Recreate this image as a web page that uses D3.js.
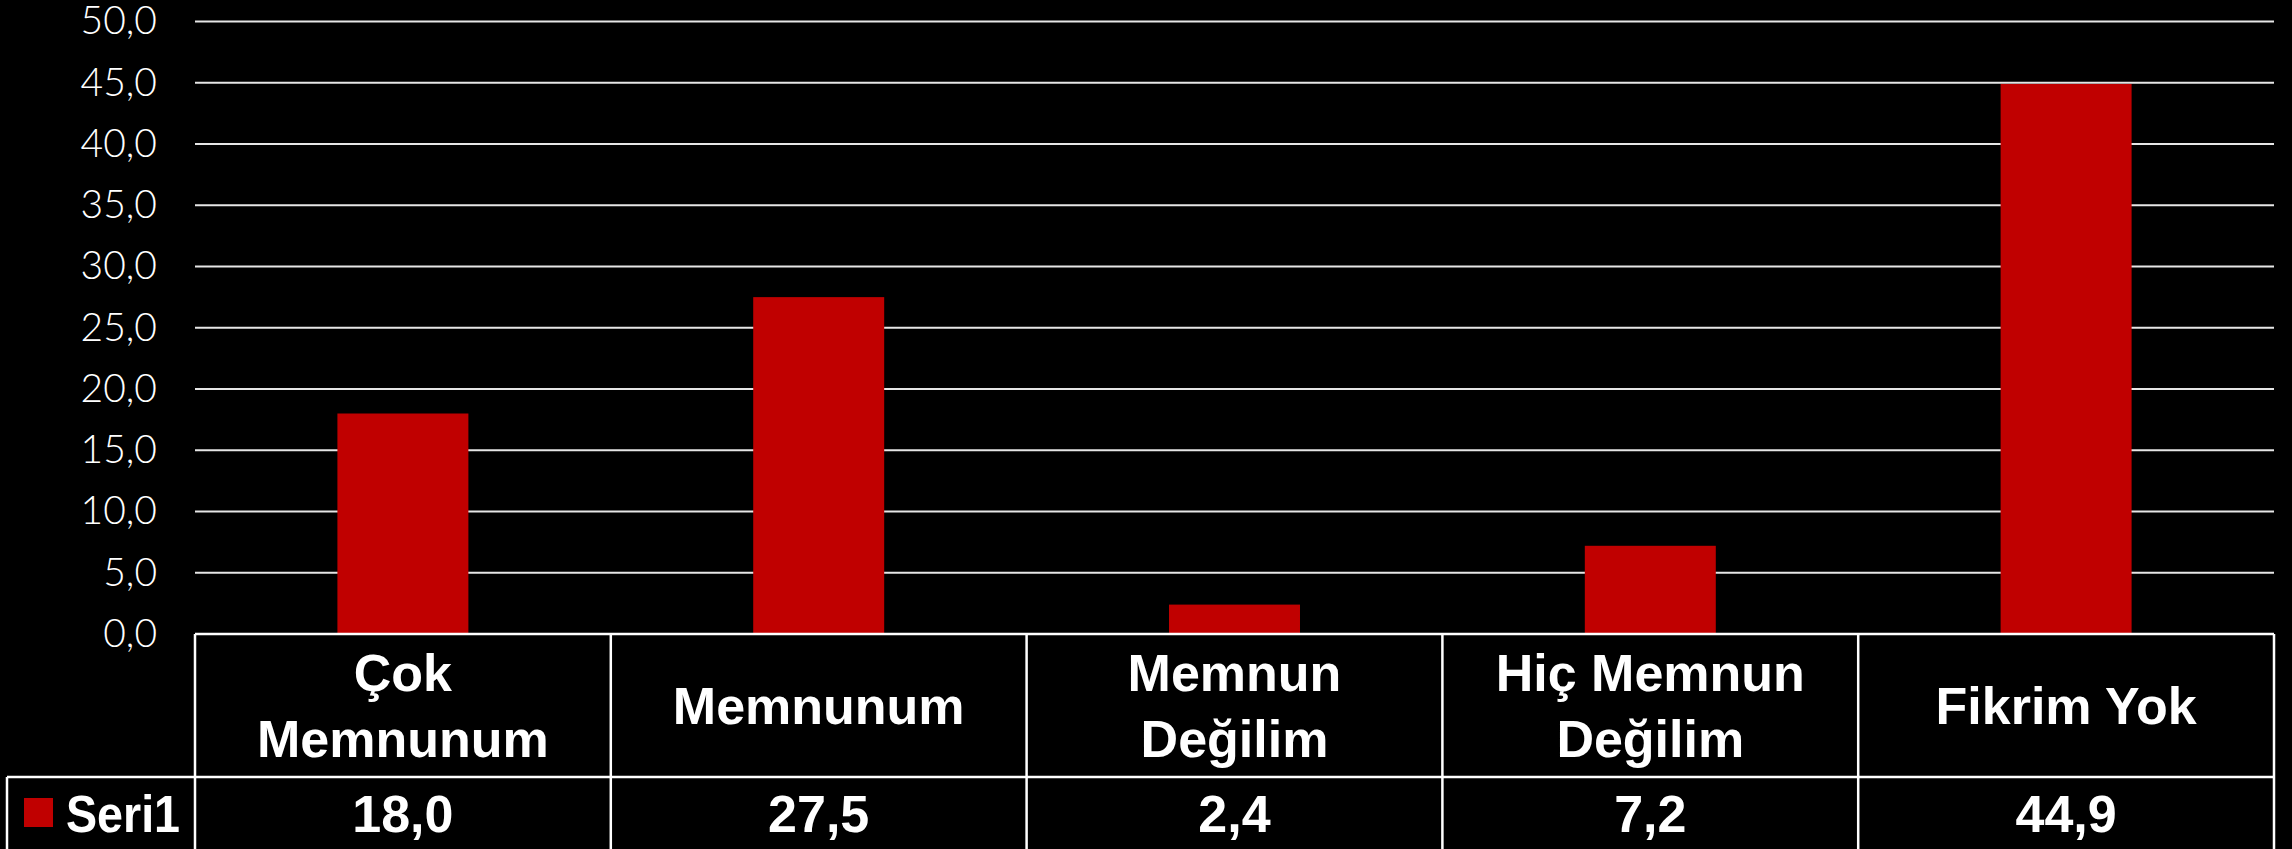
<!DOCTYPE html>
<html>
<head>
<meta charset="utf-8">
<script src="https://cdn.jsdelivr.net/npm/d3@7"></script>
<style>
  html, body { margin: 0; padding: 0; background: #000; }
  svg { display: block; }
</style>
</head>
<body>
<svg id="chart" width="2292" height="849"></svg>
<script>
// ---- data ----
const categories = ["Çok Memnunum", "Memnunum", "Memnun Değilim", "Hiç Memnun Değilim", "Fikrim Yok"];
const categoryLines = [["Çok", "Memnunum"], ["Memnunum"], ["Memnun", "Değilim"], ["Hiç Memnun", "Değilim"], ["Fikrim Yok"]];
const seriesName = "Seri1";
const values = [18.0, 27.5, 2.4, 7.2, 44.9];
const yTicks = [0, 5, 10, 15, 20, 25, 30, 35, 40, 45, 50];

// ---- layout ----
const W = 2292, H = 849;
const plotLeft = 195, plotRight = 2274;
const plotTop = 21.5, plotBottom = 634;
const headerBottom = 777, tableBottom = 910;
const legendLeft = 7;
const barColor = "#C00000";

const svg = d3.select("#chart");
svg.append("rect").attr("width", W).attr("height", H).attr("fill", "#000");

const fmt = v => d3.format(".1f")(v).replace(".", ",");

const y = d3.scaleLinear().domain([0, 50]).range([plotBottom, plotTop]);
const xCell = d3.scaleBand().domain(categories).range([plotLeft, plotRight]).padding(0);
const xBar = d3.scaleBand().domain(categories).range([plotLeft, plotRight])
  .paddingInner(0.685).paddingOuter(0.3425);

// gridlines (via axis)
const yAxis = d3.axisLeft(y).tickValues(yTicks).tickSize(0).tickFormat(fmt).tickPadding(38);
const gAxis = svg.append("g").attr("transform", `translate(${plotLeft},0)`).call(yAxis);
gAxis.select(".domain").remove();
gAxis.selectAll("text")
  .attr("fill", "#fff")
  .style("font-family", "Lato, 'Liberation Sans', sans-serif")
  .style("font-weight", 300)
  .style("font-size", "39px");

svg.append("g").selectAll("line")
  .data(yTicks.filter(t => t > 0))
  .join("line")
  .attr("x1", plotLeft).attr("x2", plotRight)
  .attr("y1", d => y(d)).attr("y2", d => y(d))
  .attr("stroke", "#e6e6e6").attr("stroke-width", 2);

// bars
svg.append("g").selectAll("rect")
  .data(values)
  .join("rect")
  .attr("x", (d, i) => xBar(categories[i]))
  .attr("width", xBar.bandwidth())
  .attr("y", d => y(d))
  .attr("height", d => y(0) - y(d))
  .attr("fill", barColor);

// data table
const tbl = svg.append("g").attr("stroke", "#fff").attr("stroke-width", 2.5).attr("fill", "none");
tbl.append("line").attr("x1", plotLeft).attr("x2", plotRight).attr("y1", plotBottom).attr("y2", plotBottom);
tbl.append("line").attr("x1", legendLeft).attr("x2", plotRight).attr("y1", headerBottom).attr("y2", headerBottom);
tbl.append("line").attr("x1", legendLeft).attr("x2", legendLeft).attr("y1", headerBottom).attr("y2", tableBottom);
tbl.selectAll("line.v")
  .data(categories.map(c => xCell(c)).concat([plotRight]))
  .join("line").attr("class", "v")
  .attr("x1", d => d).attr("x2", d => d)
  .attr("y1", plotBottom).attr("y2", tableBottom);

const textFont = "'Liberation Sans', Arial, sans-serif";
const headerMid = (plotBottom + headerBottom) / 2;
const capHalf = 18.5, lineGap = 66;

const hdr = svg.append("g");
categories.forEach((c, i) => {
  const lines = categoryLines[i];
  const cx = xCell(c) + xCell.bandwidth() / 2;
  const n = lines.length;
  const t = hdr.append("text")
    .attr("text-anchor", "middle")
    .attr("fill", "#fff")
    .style("font-family", textFont)
    .style("font-weight", "bold")
    .style("font-size", "52px");
  lines.forEach((ln, k) => {
    t.append("tspan")
      .attr("x", cx)
      .attr("y", headerMid + capHalf + (k - (n - 1) / 2) * lineGap)
      .text(ln);
  });
});

// value row
const valBaseline = 832;
svg.append("g").selectAll("text")
  .data(values)
  .join("text")
  .attr("x", (d, i) => xCell(categories[i]) + xCell.bandwidth() / 2)
  .attr("y", valBaseline)
  .attr("text-anchor", "middle")
  .attr("fill", "#fff")
  .style("font-family", textFont)
  .style("font-weight", "bold")
  .style("font-size", "52px")
  .text(d => fmt(d));

// legend cell
svg.append("rect").attr("x", 24).attr("y", 798).attr("width", 29).attr("height", 29).attr("fill", barColor);
svg.append("text")
  .attr("x", 66).attr("y", valBaseline)
  .attr("fill", "#fff")
  .style("font-family", textFont)
  .style("font-weight", "bold")
  .style("font-size", "52px")
  .attr("textLength", 114)
  .attr("lengthAdjust", "spacingAndGlyphs")
  .text(seriesName);
</script>
</body>
</html>
